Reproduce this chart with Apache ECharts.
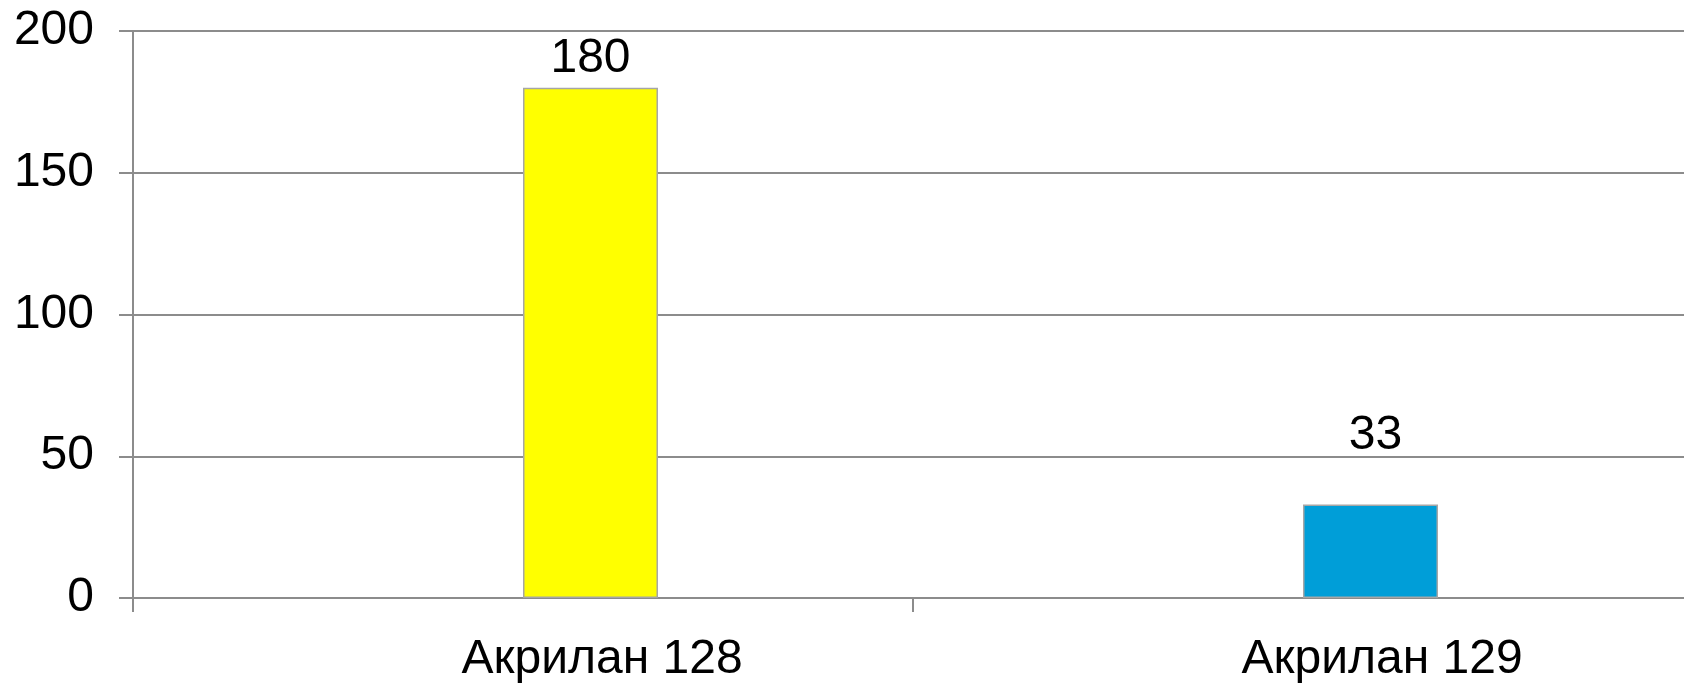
<!DOCTYPE html>
<html>
<head>
<meta charset="utf-8">
<script src="https://cdn.jsdelivr.net/npm/echarts@6/dist/echarts.min.js"></script>
<style>
html,body{margin:0;padding:0;background:#fff;overflow:hidden;width:1684px;height:684px;}
#c{width:1693px;height:684px;}
</style>
</head>
<body>
<div id="c"></div>
<script>
const categories = ['Акрилан 128', 'Акрилан 129'];
const values = [180, 33];
const barColors = ['#ffff00', '#009ed8'];
const labelDistances = [5, 45];
const labelShiftX = [0, 5];
const yMin = 0, yMax = 200, yStep = 50;

const FONT = "'Liberation Sans', Arial, sans-serif";
const chart = echarts.init(document.getElementById('c'));
chart.setOption({
  animation: false,
  backgroundColor: '#ffffff',
  grid: { left: 133, top: 31, right: 0, bottom: 85, containLabel: false },
  xAxis: {
    type: 'category',
    data: categories,
    boundaryGap: true,
    axisLine: { show: true, lineStyle: { color: '#8c8c8c', width: 2 } },
    axisTick: { show: true, length: 14, lineStyle: { color: '#8c8c8c', width: 2 } },
    axisLabel: {
      color: '#000', fontFamily: FONT, fontSize: 48, margin: 38,
      padding: [0, 0, 0, 158]
    }
  },
  yAxis: {
    type: 'value',
    min: yMin, max: yMax, interval: yStep,
    axisLine: { show: true, lineStyle: { color: '#8c8c8c', width: 2 } },
    axisTick: { show: true, length: 14, lineStyle: { color: '#8c8c8c', width: 2 } },
    splitLine: { show: true, lineStyle: { color: '#8c8c8c', width: 2 } },
    axisLabel: { color: '#000', fontFamily: FONT, fontSize: 48, margin: 39 }
  },
  series: [
    { type: 'bar', name: 'empty', data: categories.map(() => '-'), barWidth: 135, barGap: '0%' },
    {
      type: 'bar', name: 'values', barWidth: 135, barGap: '0%',
      data: values.map((v, i) => ({
        value: v,
        itemStyle: { color: barColors[i], borderColor: '#a6a6a6', borderWidth: 1.5 },
        label: { distance: labelDistances[i], offset: [labelShiftX[i], 0] }
      })),
      label: { show: true, position: 'top', color: '#000', fontFamily: FONT, fontSize: 48 }
    }
  ]
});
</script>
</body>
</html>
